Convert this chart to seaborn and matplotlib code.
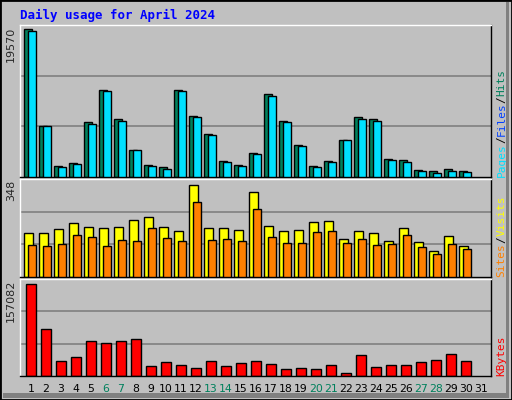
import matplotlib
matplotlib.use('Agg')
import matplotlib.pyplot as plt
import seaborn as sns
import numpy as np
import pandas as pd

# values
days = list(range(1, 31))
hits = [19570, 6761, 1468, 1824, 7294, 11565, 7606, 3558, 1557, 1334,
        11565, 8095, 5693, 2090, 1557, 3158, 11031, 7428, 4226, 1468,
        2090, 4893, 7962, 7606, 2357, 2224, 890, 756, 1023, 756]
files = [19304, 6761, 1290, 1690, 7028, 11431, 7428, 3558, 1423, 1023,
         11431, 7962, 5560, 1957, 1423, 3025, 10764, 7295, 4092, 1290,
         1957, 4893, 7695, 7428, 2224, 1957, 756, 489, 756, 623]
pages = [9163, 2891, 1290, 1290, 6894, 10898, 7428, 2758, 1290, 1023,
         11164, 7695, 5427, 1824, 1290, 2758, 10631, 7028, 3825, 1023,
         1824, 4893, 7695, 7161, 1957, 1557, 489, 489, 623, 623]
visits = [166, 166, 182, 204, 189, 185, 189, 216, 227, 189, 174, 348, 185, 185, 178,
          322, 193, 174, 178, 208, 212, 144, 174, 166, 136, 185, 132, 98, 155, 117]
sites = [121, 117, 125, 159, 151, 117, 140, 136, 185, 148, 136, 284, 140, 144, 136,
         257, 151, 129, 129, 170, 174, 129, 144, 121, 125, 159, 113, 87, 125, 106]
kbytes = [157082, 79405, 25893, 32798, 60417, 56965, 60417, 63869, 17262, 24167,
          18988, 13810, 25893, 17262, 22441, 25893, 20714, 12083, 13810, 12083,
          18988, 5179, 36250, 15536, 18988, 18988, 24167, 27619, 37976, 25893]
weekend = [6, 7, 13, 14, 20, 21, 27, 28]

df = pd.DataFrame({'day': days, 'hits': hits, 'files': files, 'pages': pages,
                   'visits': visits, 'sites': sites, 'kbytes': kbytes})

sns.set_style('white')
plt.rcParams['font.family'] = ['DejaVu Sans Mono']

W, H = 512, 400
fig = plt.figure(figsize=(W / 100, H / 100), dpi=100, facecolor='#C0C0C0')
# outer bevel
fig.patches.append(plt.Rectangle((0, 0), 1, 1, transform=fig.transFigure,
                                 fill=False, edgecolor='black', lw=2))
fig.patches.append(plt.Rectangle((0.988, 0.005), 0.007, 0.99, transform=fig.transFigure,
                                 color='#808080', lw=0))
fig.patches.append(plt.Rectangle((0.005, 0.005), 0.99, 0.012, transform=fig.transFigure,
                                 color='#808080', lw=0))


def px_axes(top, bottom, left=20, right=491):
    return fig.add_axes([left / W, 1 - bottom / H, (right - left) / W, (bottom - top) / H])


x = np.array(days, dtype=float)
xlim = (0.27, 31.67)


def style(ax, ymax, label):
    ax.set_facecolor('#C0C0C0')
    ax.set_xlim(*xlim)
    ax.set_ylim(0, ymax)
    for f in (1 / 3, 2 / 3):
        ax.axhline(ymax * f, color='#808080', lw=1.2, zorder=0)
    ax.set_xticks([])
    ax.set_yticks([])
    for s in ax.spines.values():
        s.set_color('black')
        s.set_linewidth(1)
    ax.spines['top'].set_color('white')
    ax.spines['left'].set_color('white')
    ax.text(-0.008, 0.99, label, transform=ax.transAxes, rotation=90,
            ha='right', va='top', fontsize=8, family='DejaVu Sans')


ax1 = px_axes(25, 177)
style(ax1, hits[0] * 151 / 147, '19570')
ax1.bar(x - 0.2, df.hits, width=0.53, color='#00805C', edgecolor='black', lw=1, zorder=2)
ax1.bar(x - 0.07, df.pages, width=0.2, color='#0040FF', edgecolor='black', lw=0.6, zorder=3)
ax1.bar(x + 0.07, df.files, width=0.53, color='#00E0FF', edgecolor='black', lw=1, zorder=4)

ax2 = px_axes(179, 277)
style(ax2, 348 * 98 / 92, '348')
ax2.bar(x - 0.15, df.visits, width=0.6, color='#FFFF00', edgecolor='black', lw=1, zorder=2)
ax2.bar(x + 0.08, df.sites, width=0.55, color='#FF8000', edgecolor='black', lw=1, zorder=3)

ax3 = px_axes(279, 376)
style(ax3, 157082 * 97 / 92, '157082')
sns.barplot(x=x, y=df.kbytes, native_scale=True, width=0.66, color='#FF0000',
            saturation=1, edgecolor='black', lw=1, ax=ax3, zorder=2)
ax3.set_xlim(*xlim)
ax3.set_xlabel('')
ax3.set_ylabel('')
ax3.set_xticks([])

# day labels
for d in range(1, 32):
    ax3.text(d, -0.13, str(d), transform=ax3.get_xaxis_transform(), ha='center', va='center',
             fontsize=7.8, family='DejaVu Sans',
             color='#00805C' if d in weekend else 'black')

fig.text(20 / W, 1 - 15 / H, 'Daily usage for April 2024', color='#0000FF',
         fontsize=9, fontweight='bold', va='center', ha='left')


def side(ax, parts):
    # rotated colored words chained bottom to top
    prev = ax.text(1.012, 0.0, parts[0][0], transform=ax.transAxes, rotation=90,
                   ha='left', va='bottom', color=parts[0][1], fontsize=8)
    for word, col in parts[1:]:
        prev = ax.annotate(word, xy=(0, 1), xycoords=prev, rotation=90,
                           ha='left', va='bottom', color=col, fontsize=8)


side(ax1, [('Pages', '#00E0FF'), ('/', '#000000'), ('Files', '#0040FF'),
           ('/', '#000000'), ('Hits', '#00805C')])
side(ax2, [('Sites', '#FF8000'), ('/', '#000000'), ('Visits', '#FFFF00')])
side(ax3, [('KBytes', '#FF0000')])

fig.savefig('out.png', dpi=100, facecolor=fig.get_facecolor())
